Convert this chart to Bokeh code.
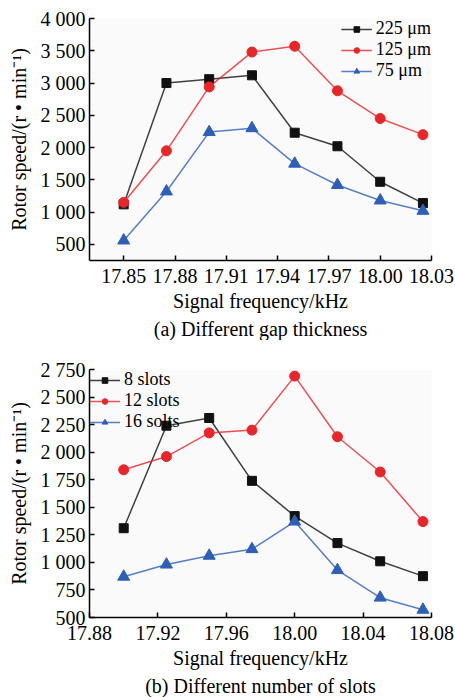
from bokeh.plotting import figure
from bokeh.layouts import column
from bokeh.models import (Legend, LegendItem, FixedTicker, CustomJSTickFormatter,
                          NumeralTickFormatter, Title, Range1d)
from bokeh.embed import file_html
from bokeh.resources import INLINE

# ---- data (a) ----
freq_a = [17.85, 17.875, 17.90, 17.925, 17.95, 17.975, 18.00, 18.025]
gap_225 = [1120, 3000, 3060, 3120, 2230, 2020, 1470, 1140]
gap_125 = [1150, 1950, 2940, 3480, 3570, 2880, 2450, 2200]
gap_75 = [560, 1320, 2240, 2300, 1750, 1420, 1180, 1020]
xticks_a = [17.85, 17.88, 17.91, 17.94, 17.97, 18.00, 18.03]
yticks_a = [500, 1000, 1500, 2000, 2500, 3000, 3500, 4000]

# ---- data (b) ----
freq_b = [17.90, 17.925, 17.95, 17.975, 18.00, 18.025, 18.05, 18.075]
slots_8 = [1310, 2240, 2310, 1740, 1420, 1175, 1010, 875]
slots_12 = [1840, 1960, 2175, 2200, 2690, 2140, 1820, 1370]
slots_16 = [870, 980, 1060, 1120, 1370, 930, 680, 570]
xticks_b = [17.88, 17.92, 17.96, 18.00, 18.04, 18.08]
yticks_b = [500, 750, 1000, 1250, 1500, 1750, 2000, 2250, 2500, 2750]

FONT = "Liberation Serif"
BLACK = "#111111"
RED = "#e8262a"
BLUE = "#2e5fb8"

yfmt = CustomJSTickFormatter(code="""
const s = Math.round(tick).toString();
return s.length > 3 ? s.slice(0, -3) + ' ' + s.slice(-3) : s;
""")


def make_fig(xr, yr, xticks, yticks, height, top, caption, series, legend_loc):
    p = figure(width=455, height=height, x_range=Range1d(*xr), y_range=Range1d(*yr),
               output_backend="svg", toolbar_location=None,
               min_border_left=89, min_border_right=24, min_border_top=top,
               min_border_bottom=4)
    p.outline_line_color = None
    p.grid.visible = False
    p.background_fill_color = "#fafafa"
    p.border_fill_color = "white"

    p.xaxis.ticker = FixedTicker(ticks=xticks)
    p.xaxis.formatter = NumeralTickFormatter(format="0.00")
    p.yaxis.ticker = FixedTicker(ticks=yticks)
    p.yaxis.formatter = yfmt
    for ax in (p.xaxis[0], p.yaxis[0]):
        ax.major_tick_in = 5
        ax.major_tick_out = 0
        ax.minor_tick_line_color = None
        ax.axis_line_width = 1.5
        ax.axis_line_color = "black"
        ax.major_tick_line_width = 1.5
        ax.major_label_text_font = FONT
        ax.major_label_text_font_size = "20px"
        ax.major_label_text_color = "black"
        ax.axis_label_text_font = FONT
        ax.axis_label_text_font_size = "20px"
        ax.axis_label_text_font_style = "normal"
        ax.axis_label_text_color = "black"
    p.xaxis.major_label_standoff = 8
    p.yaxis.major_label_standoff = 4
    p.xaxis.axis_label = "Signal frequency/kHz"
    p.xaxis.axis_label_standoff = 4
    p.yaxis.axis_label = "Rotor speed/(r \u2022 min\u207b\u00b9)"
    p.yaxis.axis_label_standoff = 8

    items = []
    for x, y, color, marker, size, label in series:
        r1 = p.line(x, y, line_color=color, line_width=1.5, line_alpha=0.8)
        r2 = p.scatter(x, y, marker=marker, size=size, fill_color=color, line_color=color)
        items.append(LegendItem(label=label, renderers=[r1, r2]))
    leg = Legend(items=items, location=legend_loc, background_fill_alpha=0,
                 border_line_color=None, label_text_font=FONT,
                 label_text_font_size="18px", label_text_color="black",
                 glyph_width=31, glyph_height=14, label_height=14, spacing=0,
                 padding=0, margin=0, label_standoff=4)
    p.add_layout(leg)
    p.add_layout(Title(text=caption, align="center", text_font=FONT,
                       text_font_size="20px", text_font_style="normal",
                       text_color="black", standoff=2), "below")
    return p


p1 = make_fig((17.83, 18.03), (250, 4000), xticks_a, yticks_a, 340, 18,
              "(a) Different gap thickness",
              [(freq_a, gap_225, BLACK, "square", 9, "225 \u03bcm"),
               (freq_a, gap_125, RED, "circle", 10, "125 \u03bcm"),
               (freq_a, gap_75, BLUE, "triangle", 12, "75 \u03bcm")],
              "top_right")
p2 = make_fig((17.88, 18.08), (500, 2750), xticks_b, yticks_b, 357, 29,
              "(b) Different number of slots",
              [(freq_b, slots_8, BLACK, "square", 9, "8 slots"),
               (freq_b, slots_12, RED, "circle", 10, "12 slots"),
               (freq_b, slots_16, BLUE, "triangle", 12, "16 solts")],
              "top_left")

layout = column(p1, p2, spacing=0)
open("out.html", "w").write(file_html(layout, INLINE))
